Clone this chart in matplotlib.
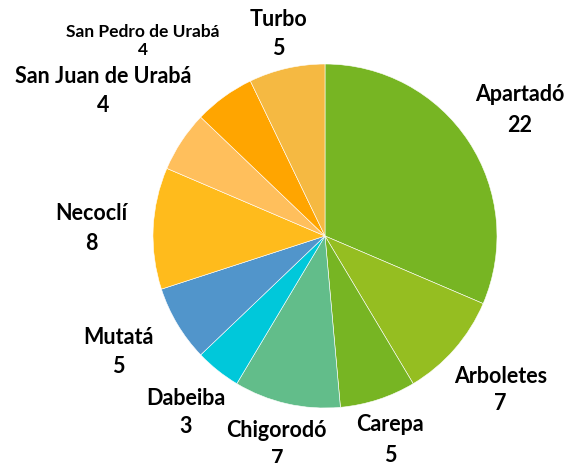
import matplotlib.pyplot as plt

municipios = ["Apartadó", "Arboletes", "Carepa", "Chigorodó", "Dabeiba",
              "Mutatá", "Necoclí", "San Juan de Urabá", "San Pedro de Urabá", "Turbo"]
valores = [22, 7, 5, 7, 3, 5, 8, 4, 4, 5]
colores = ["#77B523", "#95BE21", "#77B523", "#62BD8A", "#00C8DA",
           "#5195CB", "#FFBB1C", "#FFBF5C", "#FFA500", "#F5B942"]

# label positions in pie units (radius = 1)
pos_etiquetas = [(1.13, 0.74), (1.02, -0.89), (0.38, -1.18), (-0.28, -1.21),
                 (-0.81, -1.02), (-1.20, -0.67), (-1.36, 0.05), (-1.29, 0.85),
                 (-1.06, 1.14), (-0.27, 1.18)]
tam_fuente = [15.5, 15.5, 15.5, 15.5, 15.5, 15.5, 15.5, 15.5, 12.5, 15.5]
interlineado = [1.6, 1.4, 1.6, 1.5, 1.4, 1.5, 1.5, 1.5, 1.2, 1.5]

plt.rcParams['font.family'] = ['Lato', 'DejaVu Sans']

fig = plt.figure(figsize=(5.68, 4.64), dpi=100)
ax = fig.add_axes([0, 0, 1, 1])
ax.pie(valores, colors=colores, startangle=90, counterclock=False,
       wedgeprops={'edgecolor': 'white', 'linewidth': 0.4})

for nombre, v, (x, y), fs, ls in zip(municipios, valores, pos_etiquetas,
                                     tam_fuente, interlineado):
    ax.text(x, y, nombre + "\n" + str(v), ha='center', va='center',
            fontsize=fs, fontweight='bold', linespacing=ls)

cx, cy, r = 325, 237, 172
ax.set_xlim(-cx / r, (568 - cx) / r)
ax.set_ylim(-(464 - cy) / r, cy / r)
ax.set_aspect('auto')
ax.axis('off')

plt.savefig("out.png", dpi=100)
